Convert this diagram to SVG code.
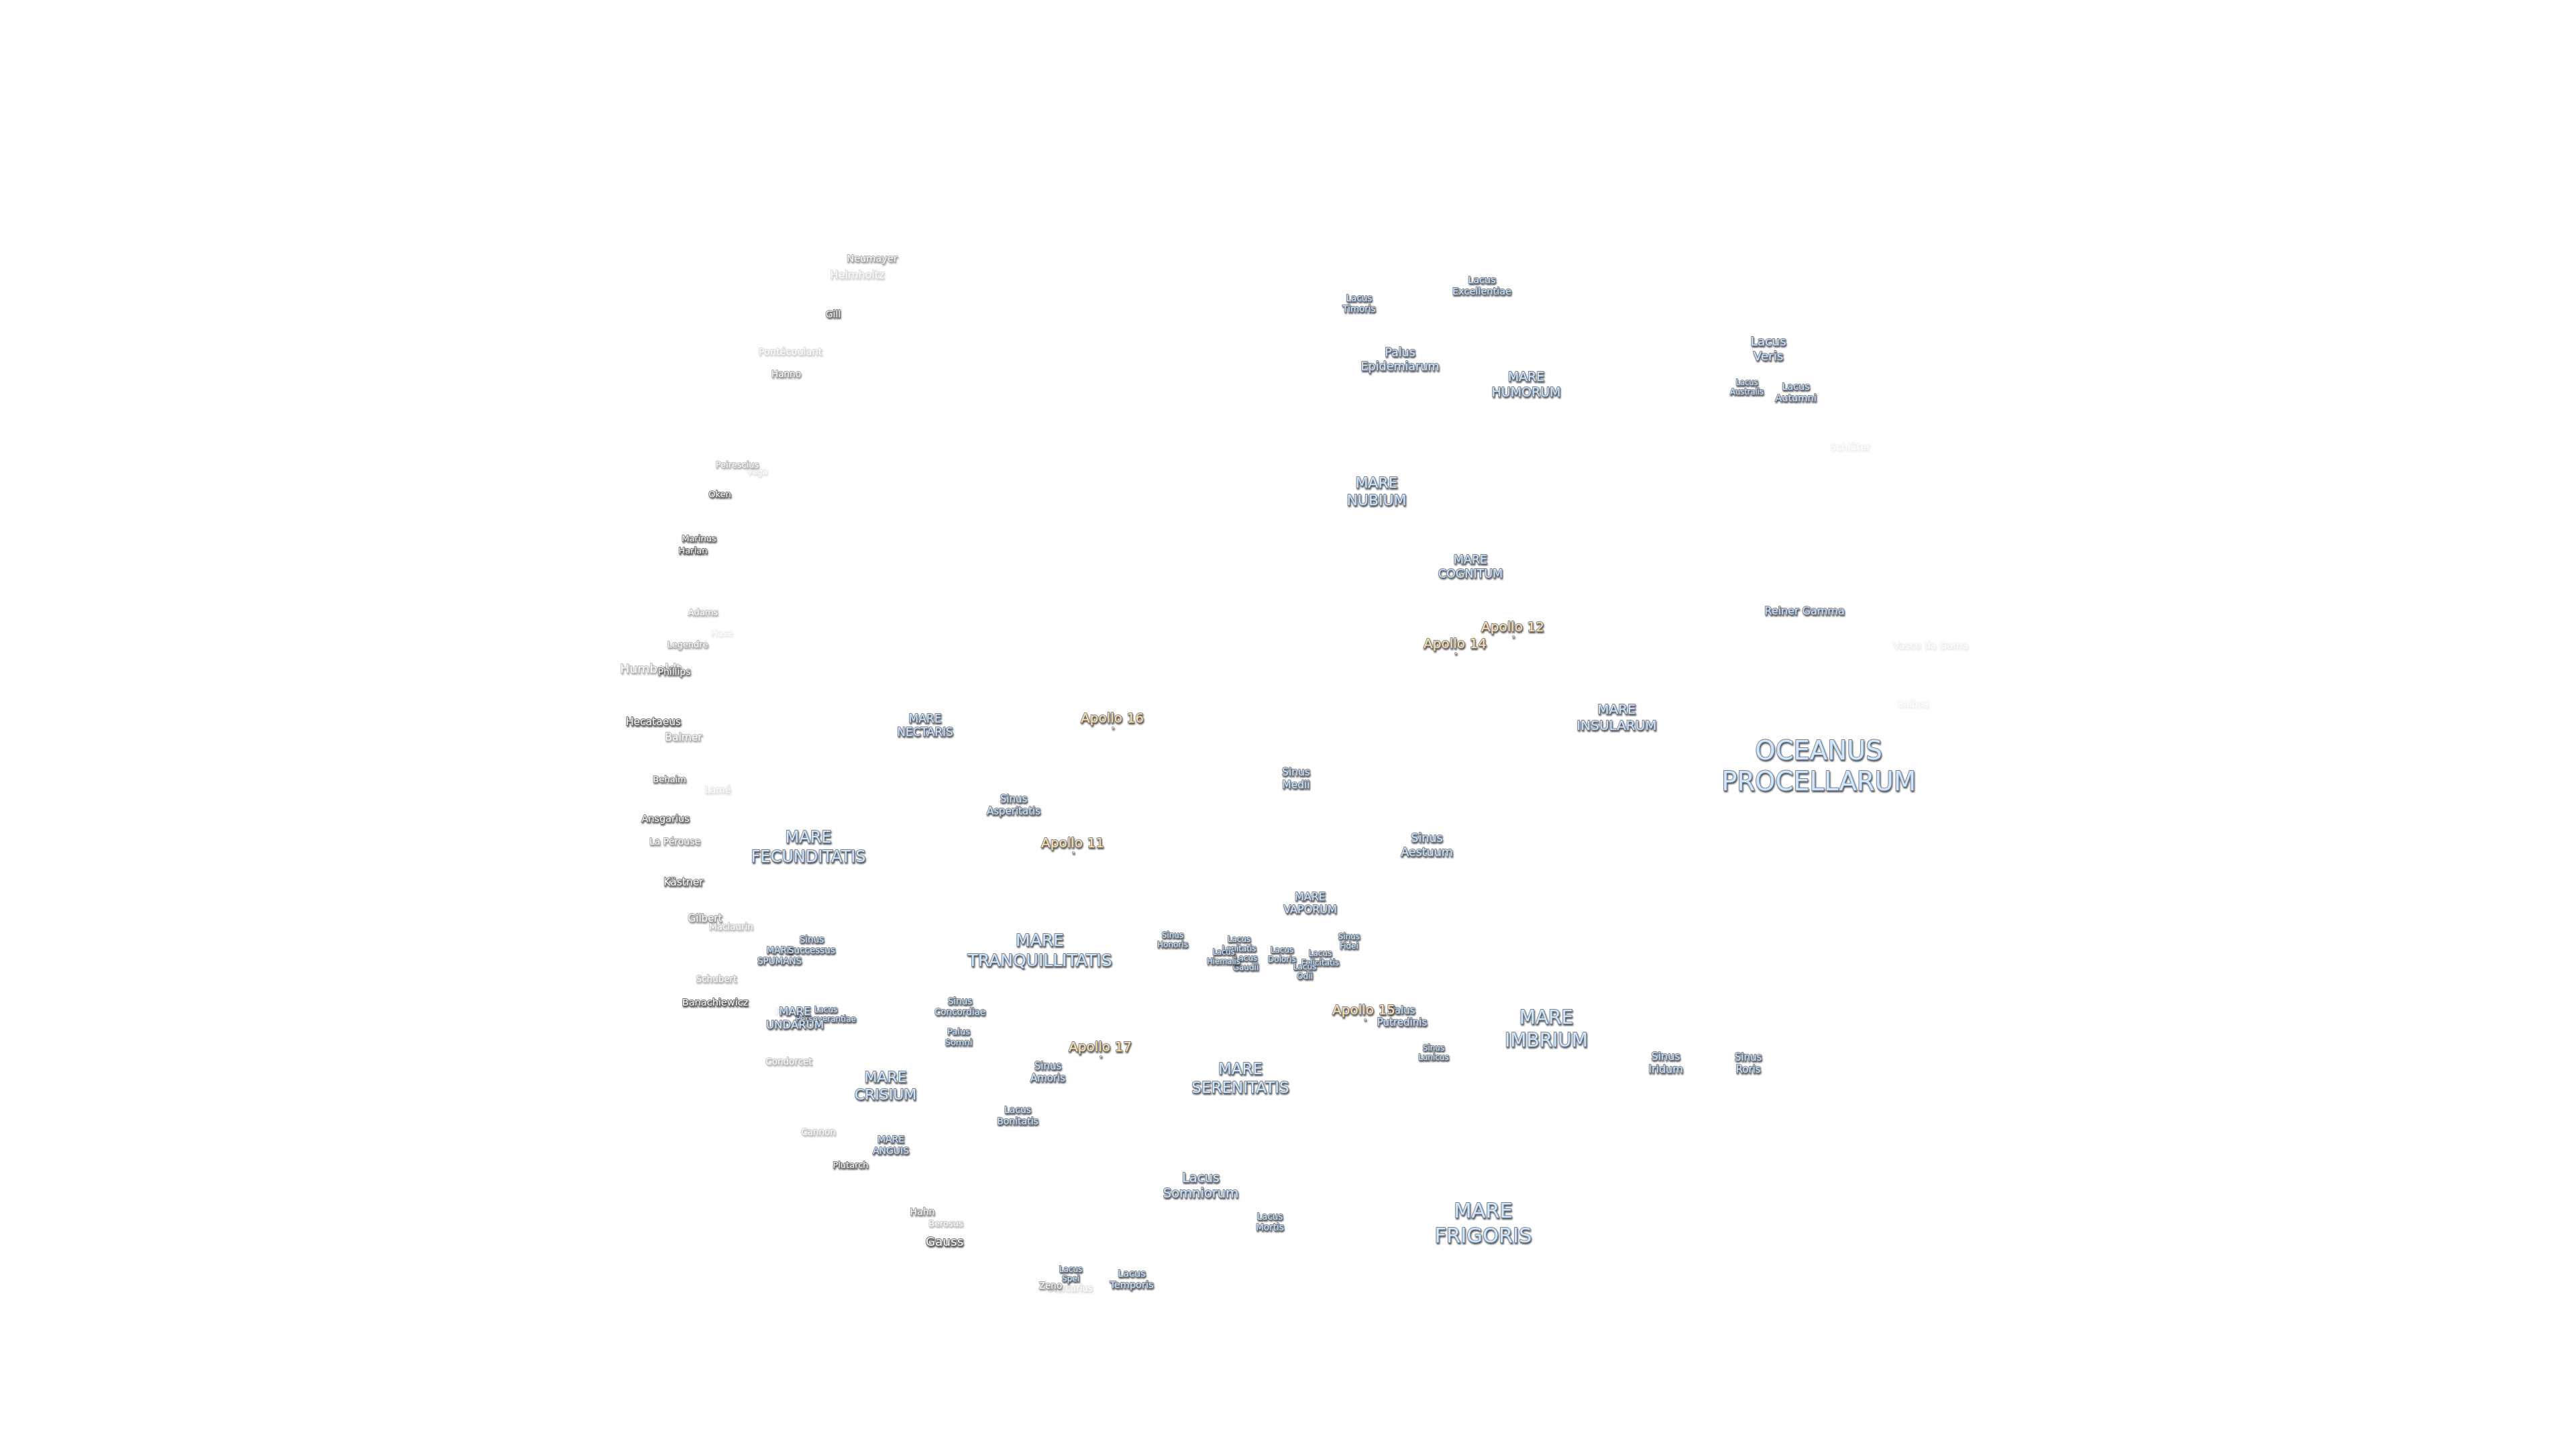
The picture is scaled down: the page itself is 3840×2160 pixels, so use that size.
<svg xmlns="http://www.w3.org/2000/svg" width="3840" height="2160" viewBox="0 0 3840 2160">
<defs>
<filter id="h" x="-25%" y="-40%" width="150%" height="180%" color-interpolation-filters="sRGB">
<feGaussianBlur in="SourceGraphic" stdDeviation="0.7" result="s"/>
<feGaussianBlur in="SourceAlpha" stdDeviation="1" result="b"/>
<feOffset in="b" dx="1.3" dy="1.6" result="o"/>
<feFlood flood-color="#222" flood-opacity="0.8"/>
<feComposite in2="o" operator="in" result="d"/>
<feMerge><feMergeNode in="d"/><feMergeNode in="s"/></feMerge>
</filter>
</defs>
<style>
text{font-family:"DejaVu Sans",sans-serif;text-anchor:middle;paint-order:stroke;stroke-width:1.8px;stroke-linejoin:round}
g.n{filter:url(#h)}
.m text{fill:#cfe6ff;stroke:#76808c}
.c text{fill:#fff;stroke:#666}
.a text,.a circle{fill:#ffe2ad;stroke:#808080}
.a circle{stroke-width:.8px}
</style>
<rect width="3840" height="2160" fill="#fff"/>
<g id="craters" transform="translate(0,1)">
<g id="neumayer" class="n c" opacity=".55"><text x="1300" y="389" font-size="14.5">Neumayer</text></g>
<g id="helmholtz" class="n c" opacity=".25"><text x="1278" y="414" font-size="16">Helmholtz</text></g>
<g id="gill" class="n c" opacity=".9"><text x="1242" y="472" font-size="14">Gill</text></g>
<g id="pontecoulant" class="n c" opacity=".25"><text x="1178" y="528" font-size="14.5">Pontécoulant</text></g>
<g id="hanno" class="n c" opacity=".6"><text x="1172" y="561" font-size="13.5">Hanno</text></g>
<g id="vega" class="n c" opacity=".15"><text x="1129" y="706" font-size="12.5">Vega</text></g>
<g id="peirescius" class="n c" opacity=".42"><text x="1099" y="696" font-size="13">Peirescius</text></g>
<g id="oken" class="n c" opacity=".92"><text x="1073" y="740" font-size="13">Oken</text></g>
<g id="marinus" class="n c" opacity=".9"><text x="1042" y="806" font-size="13">Marinus</text></g>
<g id="harlan" class="n c"><text x="1033" y="824" font-size="13">Harlan</text></g>
<g id="adams" class="n c" opacity=".42"><text x="1048" y="916" font-size="13">Adams</text></g>
<g id="hase" class="n c" opacity=".1"><text x="1076" y="947" font-size="13">Hase</text></g>
<g id="legendre" class="n c" opacity=".48"><text x="1025" y="964" font-size="13">Legendre</text></g>
<g id="humboldt" class="n c" opacity=".48"><text x="970" y="1002" font-size="18.5">Humboldt</text></g>
<g id="phillips" class="n c" opacity=".8"><text x="1005" y="1005" font-size="14">Phillips</text></g>
<g id="hecataeus" class="n c"><text x="974" y="1080" font-size="15.5">Hecataeus</text></g>
<g id="balmer" class="n c" opacity=".48"><text x="1019" y="1103" font-size="15.5">Balmer</text></g>
<g id="behaim" class="n c" opacity=".8"><text x="998" y="1165" font-size="13">Behaim</text></g>
<g id="lame" class="n c" opacity=".18"><text x="1070" y="1181" font-size="14">Lamé</text></g>
<g id="ansgarius" class="n c" opacity=".9"><text x="992" y="1224" font-size="14.5">Ansgarius</text></g>
<g id="la-perouse" class="n c" opacity=".58"><text x="1006" y="1258" font-size="14">La Pérouse</text></g>
<g id="kastner" class="n c" opacity=".9"><text x="1019" y="1319" font-size="15.5">Kästner</text></g>
<g id="gilbert" class="n c" opacity=".62"><text x="1051" y="1373" font-size="15">Gilbert</text></g>
<g id="maclaurin" class="n c" opacity=".36"><text x="1090" y="1385" font-size="13.5">Maclaurin</text></g>
<g id="schubert" class="n c" opacity=".42"><text x="1068" y="1463" font-size="13.5">Schubert</text></g>
<g id="banachiewicz" class="n c"><text x="1066" y="1498" font-size="14.5">Banachiewicz</text></g>
<g id="faint-f" class="n c" opacity=".12"><text x="1159" y="1511" font-size="13">F</text></g>
<g id="condorcet" class="n c" opacity=".42"><text x="1176" y="1586" font-size="13.5">Condorcet</text></g>
<g id="cannon" class="n c" opacity=".36"><text x="1220" y="1691" font-size="13.5">Cannon</text></g>
<g id="plutarch" class="n c" opacity=".9"><text x="1268" y="1740" font-size="13">Plutarch</text></g>
<g id="hahn" class="n c" opacity=".68"><text x="1375" y="1810" font-size="14">Hahn</text></g>
<g id="berosus" class="n c" opacity=".36"><text x="1410" y="1827" font-size="13">Berosus</text></g>
<g id="gauss" class="n c"><text x="1408" y="1856" font-size="18.5">Gauss</text></g>
<g id="mercurius" class="n c" opacity=".18"><text x="1596" y="1924" font-size="13.5">Mercurius</text></g>
<g id="zeno" class="n c" opacity=".58"><text x="1566" y="1920" font-size="13.5">Zeno</text></g>
<g id="schluter" class="n c" opacity=".09"><text x="2758" y="670" font-size="14.5">Schlüter</text></g>
<g id="vasco-da-gama" class="n c" opacity=".1"><text x="2878" y="966" font-size="14.5">Vasco da Gama</text></g>
<g id="balboa" class="n c" opacity=".08"><text x="2852" y="1053" font-size="13.5">Balboa</text></g>
</g>
<g id="maria" transform="translate(0,1)">
<g id="oceanus-procellarum" class="n m"><text x="2711" y="1131" font-size="38.5"><tspan x="2711">OCEANUS</tspan><tspan x="2711" dy="1.2em">PROCELLARUM</tspan></text></g>
<g id="mare-frigoris" class="n m"><text x="2211" y="1814" font-size="30.5"><tspan x="2211">MARE</tspan><tspan x="2211" dy="1.2em">FRIGORIS</tspan></text></g>
<g id="lacus-timoris" class="n m"><text x="2026" y="448" font-size="13.5"><tspan x="2026">Lacus</tspan><tspan x="2026" dy="1.2em">Timoris</tspan></text></g>
<g id="lacus-excellentiae" class="n m"><text x="2209" y="421" font-size="14.5"><tspan x="2209">Lacus</tspan><tspan x="2209" dy="1.2em">Excellentiae</tspan></text></g>
<g id="palus-epidemiarum" class="n m"><text x="2087" y="530" font-size="17.5"><tspan x="2087">Palus</tspan><tspan x="2087" dy="1.2em">Epidemiarum</tspan></text></g>
<g id="mare-humorum" class="n m"><text x="2275" y="567" font-size="19"><tspan x="2275">MARE</tspan><tspan x="2275" dy="1.2em">HUMORUM</tspan></text></g>
<g id="lacus-veris" class="n m"><text x="2636" y="514" font-size="18.5"><tspan x="2636">Lacus</tspan><tspan x="2636" dy="1.2em">Veris</tspan></text></g>
<g id="lacus-australis" class="n m"><text x="2604" y="573" font-size="11.5"><tspan x="2604">Lacus</tspan><tspan x="2604" dy="1.2em">Australis</tspan></text></g>
<g id="lacus-autumni" class="n m"><text x="2677" y="580" font-size="14.5"><tspan x="2677">Lacus</tspan><tspan x="2677" dy="1.2em">Autumni</tspan></text></g>
<g id="mare-nubium" class="n m"><text x="2052" y="726" font-size="22"><tspan x="2052">MARE</tspan><tspan x="2052" dy="1.2em">NUBIUM</tspan></text></g>
<g id="mare-cognitum" class="n m"><text x="2192" y="839" font-size="17.5"><tspan x="2192">MARE</tspan><tspan x="2192" dy="1.2em">COGNITUM</tspan></text></g>
<g id="reiner-gamma" class="n m"><text x="2690" y="915" font-size="16">Reiner Gamma</text></g>
<g id="mare-insularum" class="n m"><text x="2410" y="1063" font-size="20"><tspan x="2410">MARE</tspan><tspan x="2410" dy="1.2em">INSULARUM</tspan></text></g>
<g id="mare-nectaris" class="n m"><text x="1379" y="1076" font-size="17"><tspan x="1379">MARE</tspan><tspan x="1379" dy="1.2em">NECTARIS</tspan></text></g>
<g id="sinus-medii" class="n m"><text x="1932" y="1155" font-size="15.5"><tspan x="1932">Sinus</tspan><tspan x="1932" dy="1.2em">Medii</tspan></text></g>
<g id="sinus-asperitatis" class="n m"><text x="1511" y="1195" font-size="15"><tspan x="1511">Sinus</tspan><tspan x="1511" dy="1.2em">Asperitatis</tspan></text></g>
<g id="sinus-aestuum" class="n m"><text x="2127" y="1254" font-size="17.5"><tspan x="2127">Sinus</tspan><tspan x="2127" dy="1.2em">Aestuum</tspan></text></g>
<g id="mare-fecunditatis" class="n m"><text x="1205" y="1255" font-size="24"><tspan x="1205">MARE</tspan><tspan x="1205" dy="1.2em">FECUNDITATIS</tspan></text></g>
<g id="mare-vaporum" class="n m"><text x="1953" y="1341" font-size="16"><tspan x="1953">MARE</tspan><tspan x="1953" dy="1.2em">VAPORUM</tspan></text></g>
<g id="sinus-honoris" class="n m"><text x="1748" y="1397" font-size="12"><tspan x="1748">Sinus</tspan><tspan x="1748" dy="1.2em">Honoris</tspan></text></g>
<g id="lacus-lenitatis" class="n m"><text x="1847" y="1403" font-size="12"><tspan x="1847">Lacus</tspan><tspan x="1847" dy="1.2em">Lenitatis</tspan></text></g>
<g id="lacus-gaudii" class="n m"><text x="1857" y="1431" font-size="12"><tspan x="1857">Lacus</tspan><tspan x="1857" dy="1.2em">Gaudii</tspan></text></g>
<g id="lacus-hiemalis" class="n m"><text x="1824" y="1422" font-size="11.5"><tspan x="1824">Lacus</tspan><tspan x="1824" dy="1.2em">Hiemalis</tspan></text></g>
<g id="lacus-doloris" class="n m"><text x="1911" y="1419" font-size="12"><tspan x="1911">Lacus</tspan><tspan x="1911" dy="1.2em">Doloris</tspan></text></g>
<g id="lacus-felicitatis" class="n m"><text x="1968" y="1424" font-size="12"><tspan x="1968">Lacus</tspan><tspan x="1968" dy="1.2em">Felicitatis</tspan></text></g>
<g id="lacus-odii" class="n m"><text x="1945" y="1444" font-size="12"><tspan x="1945">Lacus</tspan><tspan x="1945" dy="1.2em">Odii</tspan></text></g>
<g id="sinus-fidei" class="n m"><text x="2011" y="1399" font-size="12"><tspan x="2011">Sinus</tspan><tspan x="2011" dy="1.2em">Fidei</tspan></text></g>
<g id="mare-tranquillitatis" class="n m"><text x="1550" y="1409" font-size="25"><tspan x="1550">MARE</tspan><tspan x="1550" dy="1.2em">TRANQUILLITATIS</tspan></text></g>
<g id="mare-spumans" class="n m"><text x="1162" y="1420" font-size="13.5"><tspan x="1162">MARE</tspan><tspan x="1162" dy="1.2em">SPUMANS</tspan></text></g>
<g id="sinus-successus" class="n m"><text x="1210" y="1404" font-size="13.5"><tspan x="1210">Sinus</tspan><tspan x="1210" dy="1.2em">Successus</tspan></text></g>
<g id="lacus-perseverantiae" class="n m"><text x="1231" y="1508" font-size="12"><tspan x="1231">Lacus</tspan><tspan x="1231" dy="1.2em">Perseverantiae</tspan></text></g>
<g id="mare-undarum" class="n m"><text x="1185" y="1512" font-size="16.5"><tspan x="1185">MARE</tspan><tspan x="1185" dy="1.2em">UNDARUM</tspan></text></g>
<g id="sinus-concordiae" class="n m"><text x="1431" y="1496" font-size="13.5"><tspan x="1431">Sinus</tspan><tspan x="1431" dy="1.2em">Concordiae</tspan></text></g>
<g id="palus-somni" class="n m"><text x="1429" y="1541" font-size="13"><tspan x="1429">Palus</tspan><tspan x="1429" dy="1.2em">Somni</tspan></text></g>
<g id="palus-putredinis" class="n m"><text x="2090" y="1510" font-size="15"><tspan x="2090">Palus</tspan><tspan x="2090" dy="1.2em">Putredinis</tspan></text></g>
<g id="sinus-lunicus" class="n m"><text x="2137" y="1565" font-size="12"><tspan x="2137">Sinus</tspan><tspan x="2137" dy="1.2em">Lunicus</tspan></text></g>
<g id="mare-imbrium" class="n m"><text x="2305" y="1525" font-size="28"><tspan x="2305">MARE</tspan><tspan x="2305" dy="1.2em">IMBRIUM</tspan></text></g>
<g id="sinus-iridum" class="n m"><text x="2483" y="1579" font-size="16"><tspan x="2483">Sinus</tspan><tspan x="2483" dy="1.2em">Iridum</tspan></text></g>
<g id="sinus-roris" class="n m"><text x="2606" y="1580" font-size="15"><tspan x="2606">Sinus</tspan><tspan x="2606" dy="1.2em">Roris</tspan></text></g>
<g id="sinus-amoris" class="n m"><text x="1562" y="1593" font-size="15"><tspan x="1562">Sinus</tspan><tspan x="1562" dy="1.2em">Amoris</tspan></text></g>
<g id="mare-crisium" class="n m"><text x="1320" y="1612" font-size="22"><tspan x="1320">MARE</tspan><tspan x="1320" dy="1.2em">CRISIUM</tspan></text></g>
<g id="mare-serenitatis" class="n m"><text x="1849" y="1600" font-size="23"><tspan x="1849">MARE</tspan><tspan x="1849" dy="1.2em">SERENITATIS</tspan></text></g>
<g id="lacus-bonitatis" class="n m"><text x="1517" y="1658" font-size="14"><tspan x="1517">Lacus</tspan><tspan x="1517" dy="1.2em">Bonitatis</tspan></text></g>
<g id="mare-anguis" class="n m"><text x="1328" y="1702" font-size="14"><tspan x="1328">MARE</tspan><tspan x="1328" dy="1.2em">ANGUIS</tspan></text></g>
<g id="lacus-somniorum" class="n m"><text x="1790" y="1761" font-size="19.5"><tspan x="1790">Lacus</tspan><tspan x="1790" dy="1.2em">Somniorum</tspan></text></g>
<g id="lacus-mortis" class="n m"><text x="1893" y="1817" font-size="13.5"><tspan x="1893">Lacus</tspan><tspan x="1893" dy="1.2em">Mortis</tspan></text></g>
<g id="lacus-spei" class="n m"><text x="1596" y="1895" font-size="12"><tspan x="1596">Lacus</tspan><tspan x="1596" dy="1.2em">Spei</tspan></text></g>
<g id="lacus-temporis" class="n m"><text x="1687" y="1902" font-size="14.5"><tspan x="1687">Lacus</tspan><tspan x="1687" dy="1.2em">Temporis</tspan></text></g>
</g>
<g id="apollo" transform="translate(0,1)">
<g id="apollo-11" class="n a"><text x="1599" y="1262" font-size="20">Apollo 11</text><circle cx="1600" cy="1270" r="1.6"/></g>
<g id="apollo-12" class="n a"><text x="2255" y="940" font-size="20">Apollo 12</text><circle cx="2256" cy="948" r="1.6"/></g>
<g id="apollo-14" class="n a"><text x="2169" y="965" font-size="20">Apollo 14</text><circle cx="2170" cy="973" r="1.6"/></g>
<g id="apollo-15" class="n a"><text x="2033" y="1511" font-size="20">Apollo 15</text><circle cx="2035" cy="1519" r="1.6"/></g>
<g id="apollo-16" class="n a"><text x="1658" y="1076" font-size="20">Apollo 16</text><circle cx="1659" cy="1084" r="1.6"/></g>
<g id="apollo-17" class="n a"><text x="1640" y="1566" font-size="20">Apollo 17</text><circle cx="1641" cy="1574" r="1.6"/></g>
</g>
</svg>
